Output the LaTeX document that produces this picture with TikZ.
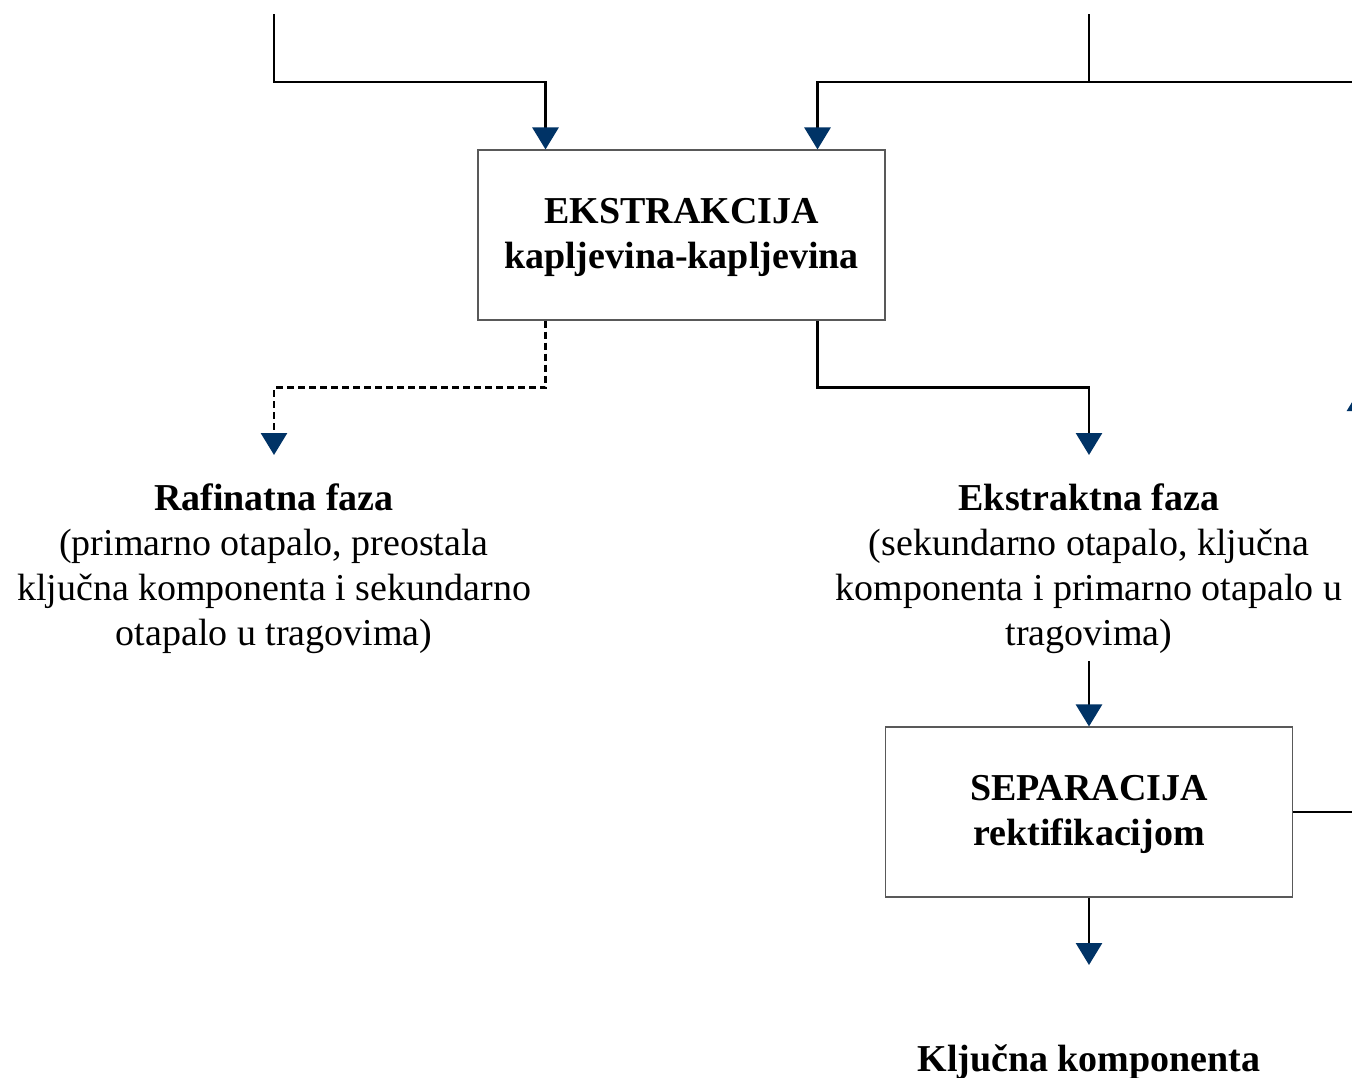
\documentclass[tikz,border=0pt]{standalone}
\usepackage{fontspec}
\setmainfont{Liberation Serif}
\usetikzlibrary{arrows.meta}
\definecolor{tipblue}{RGB}{0,51,102}
% strut that lowers the first line of a box label a little
\newcommand{\topstrut}{\rule{0pt}{31pt}}
\begin{document}
\begin{tikzpicture}[x=1pt,y=-1pt,
  conn/.style={line width=2.8pt, -{Triangle[width=26pt,length=22pt,color=tipblue]}},
  plainconn/.style={line width=2.8pt},
  dconn/.style={conn, dash pattern=on 7pt off 4pt},
  procbox/.style={draw=black!65, line width=1.1pt, minimum width=407pt,
    minimum height=170pt, align=center, inner sep=0pt,
    font=\fontsize{38}{45}\selectfont\bfseries},
  phase/.style={align=center, inner sep=0pt, font=\fontsize{38}{45}\selectfont}]

\useasboundingbox (0,0) rectangle (1352,1077);
\clip (0,0) rectangle (1352,1077);

% process units
\node[procbox] (ext) at (681.5,235) {\topstrut EKSTRAKCIJA\\kapljevina-kapljevina};
\node[procbox] (sep) at (1089,812) {\topstrut SEPARACIJA\\rektifikacijom};

% product streams
\node[phase, anchor=north] (raf) at (274,484)
  {\textbf{Rafinatna faza}\\(primarno otapalo, preostala\\ključna komponenta i sekundarno\\otapalo u tragovima)};
\node[phase, anchor=north] (exf) at (1089,484)
  {\textbf{Ekstraktna faza}\\(sekundarno otapalo, ključna\\komponenta i primarno otapalo u\\tragovima)};
\node[phase, anchor=north, font=\fontsize{38}{45}\selectfont\bfseries] (key) at (1089,1044)
  {Ključna komponenta};

% feed and solvent inlets
\coordinate (feedA) at (274,14);
\coordinate (feedB) at (1089,14);
\coordinate (recin) at (1380,82);
\coordinate (recup) at (1360,389);

\draw[conn] (feedA) -- ++(0,68) -| ([xshift=-136pt]ext.north);
\draw[conn] (feedB) -- ++(0,68) -| ([xshift=136pt]ext.north);
\draw[plainconn] (recin) -- (feedB |- recin);

% extraction outlets
\draw[dconn] ([xshift=-136pt]ext.south) -- ++(0,67) -| ([yshift=29pt]raf.north);
\draw[conn] ([xshift=136pt]ext.south) -- ++(0,67) -| ([yshift=29pt]exf.north);

% separation
\draw[conn] ([yshift=-7pt]exf.south) -- (sep.north);
\draw[conn] (sep.south) -- ([yshift=79pt]key.north);
\draw[conn] (sep.east) -| (recup);

\end{tikzpicture}
\end{document}
